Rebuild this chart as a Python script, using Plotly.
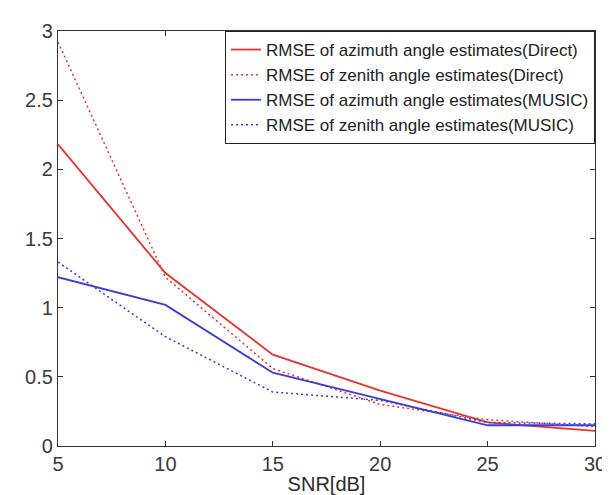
import plotly.graph_objects as go

snr = [5, 10, 15, 20, 25, 30]
az_direct = [2.18, 1.25, 0.66, 0.40, 0.17, 0.11]
ze_direct = [2.92, 1.22, 0.56, 0.30, 0.19, 0.14]
az_music = [1.22, 1.02, 0.53, 0.34, 0.15, 0.15]
ze_music = [1.33, 0.79, 0.39, 0.33, 0.17, 0.16]

RED = "#e8322e"
BLUE = "#3c3cd2"
FONT = "Liberation Sans, Arial"

series = [
    ("RMSE of azimuth angle estimates(Direct)", az_direct, RED, "solid", 1.8),
    ("RMSE of zenith angle estimates(Direct)", ze_direct, RED, "2px,3px", 1.5),
    ("RMSE of azimuth angle estimates(MUSIC)", az_music, BLUE, "solid", 1.8),
    ("RMSE of zenith angle estimates(MUSIC)", ze_music, BLUE, "2px,3px", 1.5),
]

fig = go.Figure()
for name, ys, color, dash, width in series:
    fig.add_trace(go.Scatter(
        x=snr, y=ys, name=name, mode="lines",
        line=dict(color=color, dash=dash, width=width),
    ))

axis_common = dict(
    showgrid=False, zeroline=False,
    showline=True, linecolor="#333", linewidth=1.2, mirror="ticks",
    ticks="inside", ticklen=5, tickcolor="#333",
    tickfont=dict(family=FONT, size=20, color="#3a3a3a"),
)

fig.update_layout(
    width=610, height=495,
    margin=dict(l=50, r=13, t=18, b=45),
    paper_bgcolor="white", plot_bgcolor="white",
    xaxis=dict(range=[5, 30], dtick=5,
               title=dict(text="SNR[dB]", standoff=2,
                          font=dict(family=FONT, size=20, color="#2a2a2a")),
               **axis_common),
    yaxis=dict(range=[0, 3], dtick=0.5, **axis_common),
    legend=dict(
        x=1, xanchor="right", y=1, yanchor="top",
        bgcolor="white", bordercolor="#222", borderwidth=1,
        font=dict(family=FONT, size=17, color="#222"),
        tracegroupgap=0,
    ),
)

fig.write_html("out.html")
